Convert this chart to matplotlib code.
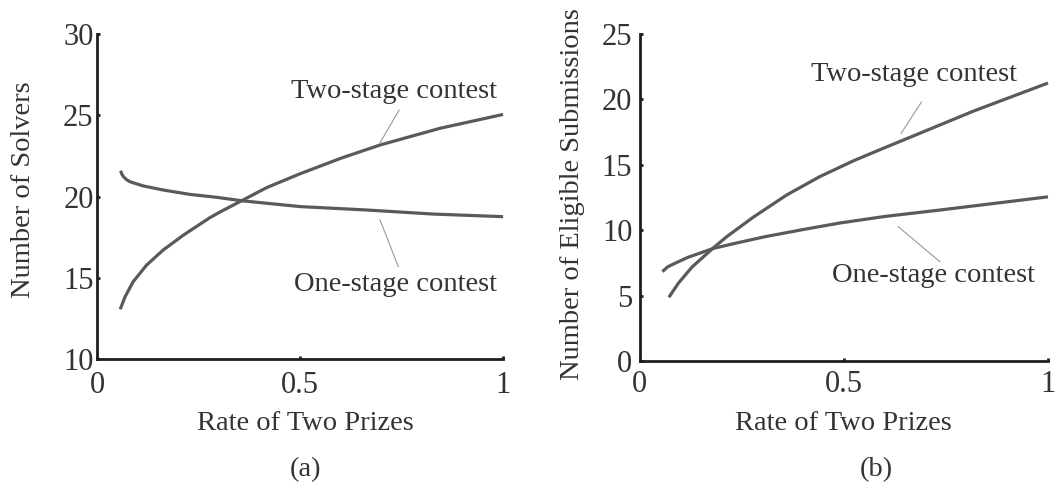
import matplotlib.pyplot as plt

plt.rcParams["font.family"] = ["Liberation Serif", "DejaVu Serif"]

# --- (a) Number of solvers ---
a_two_x = [0.057, 0.069, 0.089, 0.122, 0.163, 0.213, 0.278, 0.303, 0.356, 0.418, 0.5, 0.6, 0.697, 0.845, 1.0]
a_two_y = [13.06, 13.83, 14.76, 15.78, 16.71, 17.63, 18.7, 19.05, 19.74, 20.55, 21.4, 22.35, 23.17, 24.2, 25.05]
a_one_x = [0.058, 0.061, 0.065, 0.072, 0.081, 0.114, 0.163, 0.229, 0.295, 0.356, 0.5, 0.664, 0.828, 1.0]
a_one_y = [21.59, 21.38, 21.22, 21.05, 20.91, 20.65, 20.4, 20.13, 19.95, 19.74, 19.38, 19.17, 18.92, 18.76]

# --- (b) Number of eligible submissions ---
b_two_x = [0.071, 0.094, 0.127, 0.18, 0.2125, 0.278, 0.36, 0.441, 0.523, 0.58, 0.654, 0.817, 1.0]
b_two_y = [4.87, 5.94, 7.16, 8.65, 9.5, 11.0, 12.7, 14.1, 15.3, 16.05, 17.0, 19.1, 21.25]
b_one_x = [0.055, 0.068, 0.086, 0.118, 0.18, 0.241, 0.306, 0.4, 0.49, 0.6, 0.735, 1.0]
b_one_y = [6.83, 7.2, 7.47, 7.93, 8.61, 9.05, 9.5, 10.05, 10.55, 11.05, 11.54, 12.55]

x_ticks = [0, 0.5, 1]
x_tick_labels = ["0", "0.5", "1"]
a_y_ticks = [10, 15, 20, 25, 30]
b_y_ticks = [0, 5, 10, 15, 20, 25]

curve_color = "#5a5a5a"
axis_color = "#1e1e1e"

fig = plt.figure(figsize=(10.56, 4.9), dpi=100)
ax1 = fig.add_axes([0.0919, 0.2673, 0.3845, 0.6633])
ax2 = fig.add_axes([0.606, 0.2633, 0.3864, 0.6673])


def style_axes(ax, yticks, ypad, xpad):
    for side in ["top", "right"]:
        ax.spines[side].set_visible(False)
    for side in ["left", "bottom"]:
        ax.spines[side].set_linewidth(2)
        ax.spines[side].set_color(axis_color)
    ax.set_xlim(0, 1)
    ax.set_ylim(yticks[0], yticks[-1])
    ax.set_xticks(x_ticks)
    ax.set_xticklabels(x_tick_labels)
    ax.set_yticks(yticks)
    ax.tick_params(axis="both", direction="in", length=2.5, width=2,
                   color=axis_color, labelsize=22, labelcolor="#333333")
    ax.tick_params(axis="y", pad=ypad)
    ax.tick_params(axis="x", pad=xpad)
    for lab in ax.get_xticklabels() + ax.get_yticklabels():
        lab.set_clip_on(False)


style_axes(ax1, a_y_ticks, 2.5, 8.5)
style_axes(ax2, b_y_ticks, 5.5, 6.5)

# curves
ax1.plot(a_two_x, a_two_y, color=curve_color, lw=2.3, clip_on=False, solid_capstyle="butt")
ax1.plot(a_one_x, a_one_y, color=curve_color, lw=2.3, clip_on=False, solid_capstyle="butt")
ax2.plot(b_two_x, b_two_y, color=curve_color, lw=2.3, clip_on=False, solid_capstyle="butt")
ax2.plot(b_one_x, b_one_y, color=curve_color, lw=2.3, clip_on=False, solid_capstyle="butt")

# annotations (thin leader lines)
txt_kw = dict(fontsize=20.5, color="#333333", ha="center", va="center")
ax1.plot([0.697, 0.744], [23.31, 25.32], color="#999999", lw=0.8)
ax1.text(0.732, 26.45, "Two-stage contest", **txt_kw)
ax1.plot([0.697, 0.742], [18.55, 15.68], color="#999999", lw=0.8)
ax1.text(0.736, 14.6, "One-stage contest", **txt_kw)

ax2.plot([0.64, 0.69], [17.4, 19.8], color="#999999", lw=0.8)
ax2.text(0.672, 21.94, "Two-stage contest", **txt_kw)
ax2.plot([0.633, 0.735], [10.27, 7.59], color="#999999", lw=0.8)
ax2.text(0.719, 6.5, "One-stage contest", **txt_kw)

# axis labels and panel tags
lab_kw = dict(fontsize=20.5, color="#333333", ha="center", va="center")
fig.text(0.289, 0.135, "Rate of Two Prizes", **lab_kw)
fig.text(0.799, 0.135, "Rate of Two Prizes", **lab_kw)
fig.text(0.0218, 0.612, "Number of Solvers", rotation=90, **lab_kw)
fig.text(0.542, 0.604, "Number of Eligible Submissions", rotation=90, **lab_kw)
fig.text(0.289, 0.041, "(a)", **lab_kw)
fig.text(0.8295, 0.041, "(b)", **lab_kw)

fig.savefig("out.png", dpi=100)
